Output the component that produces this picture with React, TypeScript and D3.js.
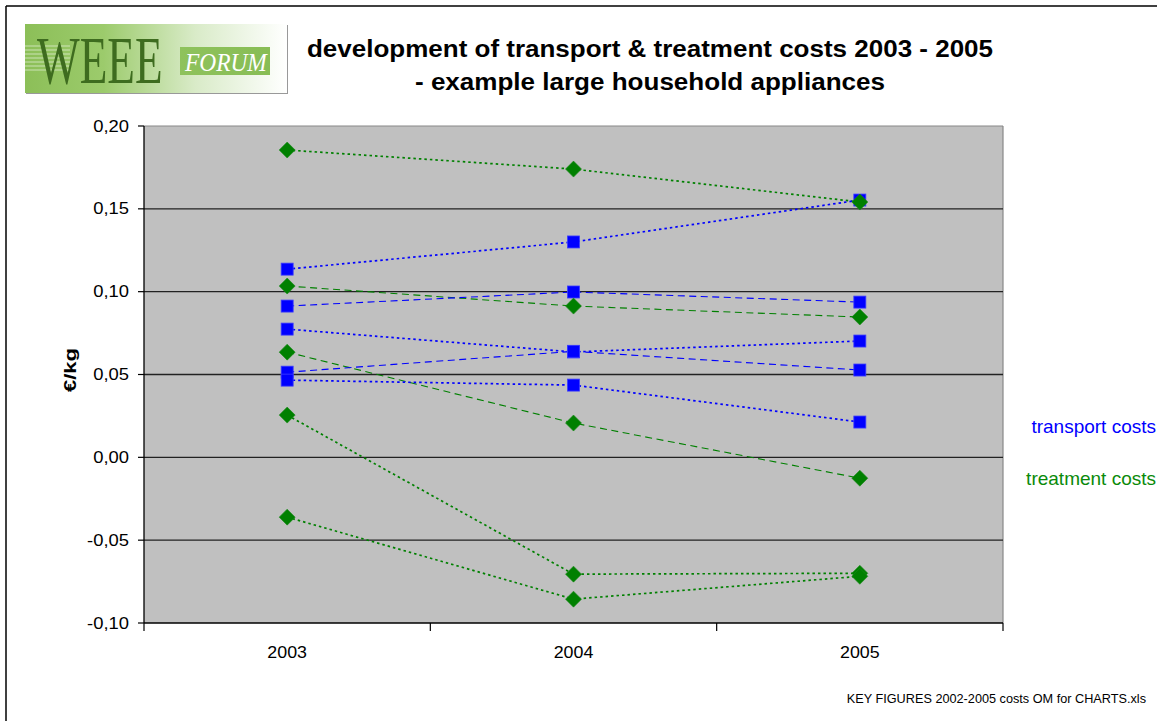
import React from "react";
import * as d3 from "d3";

const years = ["2003", "2004", "2005"];
const yTicks = [-0.1, -0.05, 0, 0.05, 0.1, 0.15, 0.2];

// transport costs (€/kg), one array per company
const transport1 = [0.1136, 0.130, 0.1553];
const transport2 = [0.0913, 0.0998, 0.0937];
const transport3 = [0.0774, 0.0636, 0.0702];
const transport4 = [0.0514, 0.0640, 0.0527];
const transport5 = [0.0466, 0.0436, 0.0213];
const transportSeries = [transport1, transport2, transport3, transport4, transport5];
const transportStyle = ["dot", "dash", "dot", "dash", "dot"];

// treatment costs (€/kg)
const treatment1 = [0.1855, 0.174, 0.1541];
const treatment2 = [0.1034, 0.0913, 0.0847];
const treatment3 = [0.0635, 0.0207, -0.0126];
const treatment4 = [0.0255, -0.0705, -0.070];
const treatment5 = [-0.0361, -0.0856, -0.0718];
const treatmentSeries = [treatment1, treatment2, treatment3, treatment4, treatment5];
const treatmentStyle = ["dot", "dash", "dash", "dot", "dot"];

const W = 1157;
const H = 721;
const plot = { left: 144, right: 1003, top: 126, bottom: 623 };

const BLUE = "#0000ff";
const GREEN = "#008000";
const FONT = "'Liberation Sans', Arial, Helvetica, sans-serif";

export default function App() {
  const x = d3.scaleBand<string>().domain(years).range([plot.left, plot.right]).padding(0);
  const y = d3.scaleLinear().domain([-0.1, 0.2]).range([plot.bottom, plot.top]);
  const cx = (i: number) => (x(years[i]) as number) + x.bandwidth() / 2;
  const line = d3
    .line<number>()
    .x((_, i) => cx(i))
    .y((d) => y(d));

  const dashOf = (s: string) => (s === "dot" ? "2.5,3" : "7,4.5");
  const widthOf = (s: string) => (s === "dot" ? 1.7 : 1.1);

  const fmt = (v: number) => d3.format(".2f")(v).replace(".", ",").replace("−", "-");

  const xBoundaries = [...years.map((yr) => x(yr) as number), plot.right];

  return (
    <svg
      width={W}
      height={H}
      style={{ position: "absolute", left: 0, top: 0, background: "#fff" }}
      fontFamily={FONT}
    >
      <defs>
        <linearGradient id="logoGrad" x1="0" x2="1" y1="0" y2="0">
          <stop offset="0" stopColor="#8cbf58" />
          <stop offset="0.3" stopColor="#9ccb6c" />
          <stop offset="0.65" stopColor="#d9ebc8" />
          <stop offset="1" stopColor="#ffffff" />
        </linearGradient>
        <linearGradient id="bandGrad" x1="0" x2="1" y1="0" y2="0">
          <stop offset="0" stopColor="#8ec25c" />
          <stop offset="1" stopColor="#88bd55" />
        </linearGradient>
      </defs>

      {/* outer frame */}
      <line x1={6} y1={6} x2={W} y2={6} stroke="#000" strokeWidth={1.5} />
      <line x1={6} y1={6} x2={6} y2={H} stroke="#000" strokeWidth={1.5} />

      {/* logo */}
      <g>
        <rect x={26} y={25} width={262} height={69} fill="#999" />
        <rect x={25} y={24} width={262} height={69} fill="url(#logoGrad)" />
        {[46, 50, 54, 58, 62, 66, 70].map((yy) => (
          <line key={yy} x1={25} x2={70} y1={yy} y2={yy} stroke="#fff" strokeOpacity={0.55} strokeWidth={1} />
        ))}
        <rect x={180} y={47} width={90} height={28} fill="url(#bandGrad)" />
        <text
          transform="translate(37,83) scale(0.665,1)"
          fontFamily="'Liberation Serif', 'DejaVu Serif', serif"
          fontSize={68}
          fill="#3e6c1f"
        >
          WEEE
        </text>
        <text
          transform="translate(185,71) scale(0.9,1)"
          fontFamily="'Liberation Serif', 'DejaVu Serif', serif"
          fontStyle="italic"
          fontSize={26}
          fill="#fff"
        >
          FORUM
        </text>
      </g>

      {/* title */}
      <text
        x={650}
        y={56.5}
        textAnchor="middle"
        fontWeight="bold"
        fontSize={23}
        fill="#000"
        textLength={686}
        lengthAdjust="spacingAndGlyphs"
      >
        development of transport &amp; treatment costs 2003 - 2005
      </text>
      <text
        x={650}
        y={90}
        textAnchor="middle"
        fontWeight="bold"
        fontSize={23}
        fill="#000"
        textLength={470}
        lengthAdjust="spacingAndGlyphs"
      >
        - example large household appliances
      </text>

      {/* plot area */}
      <rect
        x={plot.left}
        y={plot.top}
        width={plot.right - plot.left}
        height={plot.bottom - plot.top}
        fill="#c0c0c0"
      />
      <line x1={plot.left} x2={plot.right} y1={plot.top} y2={plot.top} stroke="#888" strokeWidth={1.2} />
      <line x1={plot.right} x2={plot.right} y1={plot.top} y2={plot.bottom} stroke="#888" strokeWidth={1.2} />

      {/* gridlines */}
      {yTicks
        .filter((t) => t > -0.1 && t < 0.2)
        .map((t) => (
          <line
            key={t}
            x1={plot.left}
            x2={plot.right}
            y1={y(t)}
            y2={y(t)}
            stroke="#222"
            strokeWidth={1.3}
          />
        ))}

      {/* axes */}
      <line x1={plot.left} x2={plot.left} y1={plot.top} y2={plot.bottom} stroke="#000" strokeWidth={1.3} />
      <line x1={plot.left} x2={plot.right} y1={plot.bottom} y2={plot.bottom} stroke="#000" strokeWidth={1.3} />
      {yTicks.map((t) => (
        <g key={t}>
          <line x1={plot.left - 6} x2={plot.left} y1={y(t)} y2={y(t)} stroke="#000" strokeWidth={1.2} />
          <text
            transform={`translate(129,${y(t)}) scale(1.15,1)`}
            dy="0.35em"
            textAnchor="end"
            fontSize={16}
            fill="#000"
          >
            {fmt(t)}
          </text>
        </g>
      ))}
      {xBoundaries.map((bx, i) => (
        <line key={i} x1={bx} x2={bx} y1={plot.bottom} y2={plot.bottom + 8} stroke="#000" strokeWidth={1.2} />
      ))}
      {years.map((yr, i) => (
        <text
          key={yr}
          transform={`translate(${cx(i)},658) scale(1.08,1)`}
          textAnchor="middle"
          fontSize={16.5}
          fill="#000"
        >
          {yr}
        </text>
      ))}
      <text
        transform={`translate(76,370) rotate(-90)`}
        textAnchor="middle"
        fontWeight="bold"
        fontSize={17}
        fill="#000"
        textLength={44}
        lengthAdjust="spacingAndGlyphs"
      >
        €/kg
      </text>

      {/* treatment series */}
      {treatmentSeries.map((s, k) => (
        <g key={"g" + k}>
          <path
            d={line(s) as string}
            fill="none"
            stroke={GREEN}
            strokeWidth={widthOf(treatmentStyle[k])}
            strokeDasharray={dashOf(treatmentStyle[k])}
          />
        </g>
      ))}
      {/* transport series */}
      {transportSeries.map((s, k) => (
        <g key={"t" + k}>
          <path
            d={line(s) as string}
            fill="none"
            stroke={BLUE}
            strokeWidth={widthOf(transportStyle[k])}
            strokeDasharray={dashOf(transportStyle[k])}
          />
        </g>
      ))}
      {transportSeries.map((s, k) =>
        s.map((v, i) => (
          <rect
            key={`ts${k}-${i}`}
            x={cx(i) - 6}
            y={y(v) - 6}
            width={12}
            height={12}
            fill={BLUE}
            stroke="#3c3cff"
            strokeWidth={0.8}
          />
        ))
      )}
      {treatmentSeries.map((s, k) =>
        s.map((v, i) => (
          <path
            key={`gm${k}-${i}`}
            d={`M${cx(i)},${y(v) - 8}L${cx(i) + 8},${y(v)}L${cx(i)},${y(v) + 8}L${cx(i) - 8},${y(v)}Z`}
            fill={GREEN}
            stroke="#1a8a1a"
            strokeWidth={0.6}
          />
        ))
      )}

      {/* legend labels */}
      <text x={1156} y={426} dy="0.35em" textAnchor="end" fontSize={19} fill={BLUE}>
        transport costs
      </text>
      <text x={1156} y={478} dy="0.35em" textAnchor="end" fontSize={19} fill="#0a8a0a">
        treatment costs
      </text>

      {/* footer */}
      <text x={1146} y={703} textAnchor="end" fontSize={12.7} fill="#000">
        KEY FIGURES 2002-2005 costs OM for CHARTS.xls
      </text>
    </svg>
  );
}
